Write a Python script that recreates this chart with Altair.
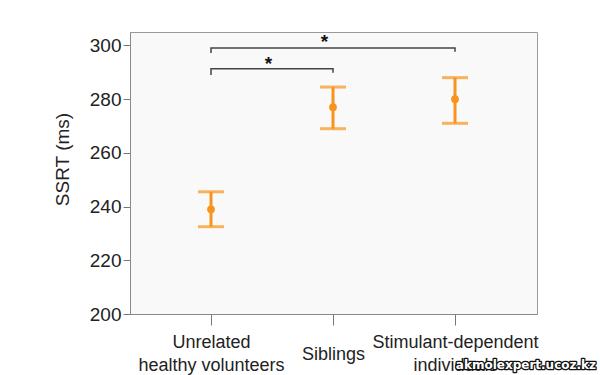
import json
import altair as alt
import pandas as pd

# ---- data ----
categories = ["Unrelated healthy volunteers", "Siblings", "Stimulant-dependent individuals"]
label_lines = [["Unrelated", "healthy volunteers"], ["Siblings"], ["Stimulant-dependent", "individuals"]]
cat_index = [0, 1, 2]
means = [239.0, 277.0, 280.0]
lower = [232.5, 269.0, 271.0]
upper = [245.5, 284.5, 288.0]

# significance brackets (vertices of each bracket, in data units)
bracket_id = ["a", "a", "a", "a", "b", "b", "b", "b"]
bracket_x = [0, 0, 1, 1, 0, 0, 2, 2]
bracket_y = [289.0, 291.3, 291.3, 289.8, 297.2, 299.0, 299.0, 297.6]
bracket_order = [0, 1, 2, 3, 0, 1, 2, 3]
star_x = [0.47, 0.93]
star_y = [293.0, 301.3]
star_text = ["*", "*"]

watermark_text = ["akmolexpert.ucoz.kz"]

ORANGE = "#f7941d"
FONT = "Liberation Sans"

df = pd.DataFrame({"idx": cat_index, "group": categories, "mean": means, "lo": lower, "hi": upper})
br = pd.DataFrame({"id": bracket_id, "x": bracket_x, "y": bracket_y, "o": bracket_order})
st = pd.DataFrame({"x": star_x, "y": star_y, "t": star_text})
wm = pd.DataFrame({"t": watermark_text})

def lab(lines):
    return json.dumps(lines) if len(lines) > 1 else json.dumps(lines[0])

label_expr = " : ".join(
    f"datum.value == {i} ? {lab(l)}" for i, l in zip(cat_index, label_lines)
) + " : ''"
single_line = [i for i, l in zip(cat_index, label_lines) if len(l) == 1]
single_test = " || ".join(f"datum.value == {i}" for i in single_line)

x_scale = alt.Scale(domain=[-0.664, 2.672], nice=False, zero=False)
y_scale = alt.Scale(domain=[200, 305], nice=False, zero=False)

x_axis = alt.Axis(
    values=cat_index, labelExpr=label_expr, title=None, grid=False,
    tickSize=11, tickColor="#777", domainColor="#888", labelPadding=17,
    labelBaseline={"condition": {"test": single_test, "value": "line-top"}, "value": "middle"},
    labelLineHeight=23, labelFontSize=18,
    labelColor="#222", labelFont=FONT, labelFlush=False, labelOverlap=False,
)
y_axis = alt.Axis(
    values=[200, 220, 240, 260, 280, 300], grid=False, tickSize=7,
    tickColor="#777", domainColor="#888", labelFontSize=19, labelColor="#222",
    labelFont=FONT, labelPadding=2, title="SSRT (ms)", titleFontSize=19,
    titleFont=FONT, titleFontWeight="normal", titleColor="#222",
    titleX=-68, titleY=127, titleBaseline="middle", titleAlign="center",
)

base = alt.Chart(df)
x = alt.X("idx:Q", scale=x_scale, axis=x_axis)

rule = base.mark_rule(color=ORANGE, strokeWidth=3).encode(
    x=x, y=alt.Y("lo:Q", scale=y_scale, axis=y_axis), y2="hi:Q"
)
cap_lo = base.mark_tick(color=ORANGE, thickness=3, size=26, orient="horizontal").encode(
    x=x, y=alt.Y("lo:Q", scale=y_scale)
)
cap_hi = base.mark_tick(color=ORANGE, thickness=3, size=26, orient="horizontal").encode(
    x=x, y=alt.Y("hi:Q", scale=y_scale)
)
pts = base.mark_circle(color=ORANGE, size=60, opacity=1).encode(
    x=x, y=alt.Y("mean:Q", scale=y_scale)
)
brackets = alt.Chart(br).mark_line(color="#444", strokeWidth=1.5).encode(
    x=alt.X("x:Q", scale=x_scale), y=alt.Y("y:Q", scale=y_scale),
    detail="id:N", order="o:Q"
)
stars = alt.Chart(st).mark_text(fontSize=19, fontWeight="bold", font=FONT, color="#111", baseline="middle").encode(
    x=alt.X("x:Q", scale=x_scale), y=alt.Y("y:Q", scale=y_scale), text="t:N"
)
wm_outline = alt.Chart(wm).mark_text(
    font="DejaVu Sans", fontWeight="bold", fontSize=12, fill="#111",
    stroke="#111", strokeWidth=2.6, strokeJoin="round", align="right", baseline="middle",
).encode(x=alt.value(466), y=alt.value(333), text="t:N")
wm_fill = alt.Chart(wm).mark_text(
    font="DejaVu Sans", fontWeight="bold", fontSize=12, fill="white",
    align="right", baseline="middle",
).encode(x=alt.value(466), y=alt.value(333), text="t:N")

chart = alt.layer(rule, cap_lo, cap_hi, pts, brackets, stars, wm_outline, wm_fill).properties(
    width=407, height=282,
    autosize=alt.AutoSizeParams(type="none"),
    padding={"left": 130, "top": 32, "right": 63, "bottom": 61},
    background="white",
).configure_view(fill="#faf9f9", stroke="#9a9a9a", strokeWidth=1)

chart.save("out.html", embed_options={"renderer": "svg", "actions": False})
